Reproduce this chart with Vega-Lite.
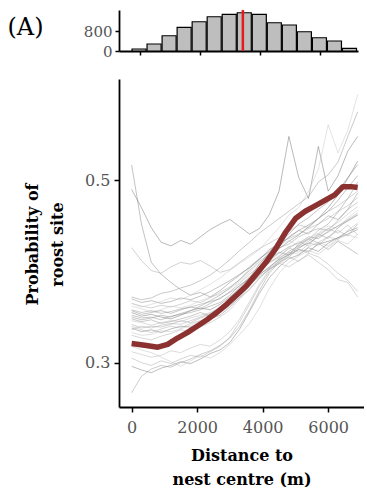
{
"$schema": "https://vega.github.io/schema/vega-lite/v6.json",
"padding": {"left": 7, "top": 8, "right": 0, "bottom": 0},
"autosize": {"type": "pad"},
"spacing": 20,
"config": {"view": {"stroke": null}, "font": "DejaVu Serif", "axis": {"grid": false, "domainColor": "black", "domainWidth": 1.8, "tickColor": "black", "tickWidth": 1.5, "tickSize": 5, "labelColor": "#555555", "labelFont": "DejaVu Serif", "labelFontSize": 16, "titleFont": "DejaVu Serif", "titleColor": "black"}},
"datasets": {
"hist": [{"b0":-300,"b1":200,"n":80},{"b0":200,"b1":700,"n":280},{"b0":700,"b1":1200,"n":610},{"b0":1200,"b1":1700,"n":945},{"b0":1700,"b1":2200,"n":1170},{"b0":2200,"b1":2700,"n":1370},{"b0":2700,"b1":3200,"n":1465},{"b0":3200,"b1":3700,"n":1530},{"b0":3700,"b1":4200,"n":1465},{"b0":4200,"b1":4700,"n":1130},{"b0":4700,"b1":5200,"n":1040},{"b0":5200,"b1":5700,"n":770},{"b0":5700,"b1":6200,"n":530},{"b0":6200,"b1":6700,"n":400},{"b0":6700,"b1":7200,"n":105}],
"cut": [{"d": 3420}],
"mean": [{"d":0,"p":0.321},{"d":400,"p":0.319},{"d":800,"p":0.317},{"d":1100,"p":0.320},{"d":1400,"p":0.327},{"d":1700,"p":0.333},{"d":2000,"p":0.340},{"d":2300,"p":0.347},{"d":2600,"p":0.355},{"d":2900,"p":0.364},{"d":3200,"p":0.374},{"d":3500,"p":0.384},{"d":3800,"p":0.397},{"d":4100,"p":0.410},{"d":4400,"p":0.425},{"d":4700,"p":0.443},{"d":5000,"p":0.458},{"d":5300,"p":0.466},{"d":5600,"p":0.472},{"d":5900,"p":0.478},{"d":6200,"p":0.484},{"d":6450,"p":0.493},{"d":6700,"p":0.493},{"d":6900,"p":0.492}],
"lines": [
{"g":1,"d":0,"p":0.352},{"g":1,"d":300,"p":0.349},{"g":1,"d":600,"p":0.350},{"g":1,"d":900,"p":0.347},{"g":1,"d":1200,"p":0.351},{"g":1,"d":1500,"p":0.353},{"g":1,"d":1800,"p":0.355},{"g":1,"d":2100,"p":0.358},{"g":1,"d":2400,"p":0.362},{"g":1,"d":2700,"p":0.366},{"g":1,"d":3000,"p":0.374},{"g":1,"d":3300,"p":0.385},{"g":1,"d":3600,"p":0.392},{"g":1,"d":3900,"p":0.401},{"g":1,"d":4200,"p":0.412},{"g":1,"d":4500,"p":0.420},{"g":1,"d":4800,"p":0.427},{"g":1,"d":5100,"p":0.431},{"g":1,"d":5400,"p":0.438},{"g":1,"d":5700,"p":0.436},{"g":1,"d":6000,"p":0.444},{"g":1,"d":6300,"p":0.450},{"g":1,"d":6600,"p":0.455},{"g":1,"d":6900,"p":0.462},
{"g":2,"d":0,"p":0.365},{"g":2,"d":300,"p":0.362},{"g":2,"d":600,"p":0.360},{"g":2,"d":900,"p":0.363},{"g":2,"d":1200,"p":0.361},{"g":2,"d":1500,"p":0.364},{"g":2,"d":1800,"p":0.368},{"g":2,"d":2100,"p":0.366},{"g":2,"d":2400,"p":0.371},{"g":2,"d":2700,"p":0.377},{"g":2,"d":3000,"p":0.383},{"g":2,"d":3300,"p":0.391},{"g":2,"d":3600,"p":0.403},{"g":2,"d":3900,"p":0.414},{"g":2,"d":4200,"p":0.421},{"g":2,"d":4500,"p":0.432},{"g":2,"d":4800,"p":0.436},{"g":2,"d":5100,"p":0.441},{"g":2,"d":5400,"p":0.447},{"g":2,"d":5700,"p":0.452},{"g":2,"d":6000,"p":0.458},{"g":2,"d":6300,"p":0.466},{"g":2,"d":6600,"p":0.472},{"g":2,"d":6900,"p":0.481},
{"g":3,"d":0,"p":0.338},{"g":3,"d":300,"p":0.334},{"g":3,"d":600,"p":0.336},{"g":3,"d":900,"p":0.333},{"g":3,"d":1200,"p":0.337},{"g":3,"d":1500,"p":0.340},{"g":3,"d":1800,"p":0.339},{"g":3,"d":2100,"p":0.343},{"g":3,"d":2400,"p":0.348},{"g":3,"d":2700,"p":0.352},{"g":3,"d":3000,"p":0.361},{"g":3,"d":3300,"p":0.372},{"g":3,"d":3600,"p":0.384},{"g":3,"d":3900,"p":0.396},{"g":3,"d":4200,"p":0.405},{"g":3,"d":4500,"p":0.413},{"g":3,"d":4800,"p":0.418},{"g":3,"d":5100,"p":0.424},{"g":3,"d":5400,"p":0.422},{"g":3,"d":5700,"p":0.430},{"g":3,"d":6000,"p":0.433},{"g":3,"d":6300,"p":0.437},{"g":3,"d":6600,"p":0.441},{"g":3,"d":6900,"p":0.446},
{"g":4,"d":0,"p":0.346},{"g":4,"d":300,"p":0.344},{"g":4,"d":600,"p":0.341},{"g":4,"d":900,"p":0.344},{"g":4,"d":1200,"p":0.346},{"g":4,"d":1500,"p":0.345},{"g":4,"d":1800,"p":0.349},{"g":4,"d":2100,"p":0.352},{"g":4,"d":2400,"p":0.355},{"g":4,"d":2700,"p":0.361},{"g":4,"d":3000,"p":0.368},{"g":4,"d":3300,"p":0.379},{"g":4,"d":3600,"p":0.389},{"g":4,"d":3900,"p":0.398},{"g":4,"d":4200,"p":0.410},{"g":4,"d":4500,"p":0.417},{"g":4,"d":4800,"p":0.425},{"g":4,"d":5100,"p":0.433},{"g":4,"d":5400,"p":0.428},{"g":4,"d":5700,"p":0.441},{"g":4,"d":6000,"p":0.447},{"g":4,"d":6300,"p":0.454},{"g":4,"d":6600,"p":0.463},{"g":4,"d":6900,"p":0.471},
{"g":5,"d":0,"p":0.358},{"g":5,"d":300,"p":0.355},{"g":5,"d":600,"p":0.357},{"g":5,"d":900,"p":0.354},{"g":5,"d":1200,"p":0.356},{"g":5,"d":1500,"p":0.359},{"g":5,"d":1800,"p":0.361},{"g":5,"d":2100,"p":0.364},{"g":5,"d":2400,"p":0.367},{"g":5,"d":2700,"p":0.370},{"g":5,"d":3000,"p":0.378},{"g":5,"d":3300,"p":0.387},{"g":5,"d":3600,"p":0.397},{"g":5,"d":3900,"p":0.405},{"g":5,"d":4200,"p":0.416},{"g":5,"d":4500,"p":0.426},{"g":5,"d":4800,"p":0.430},{"g":5,"d":5100,"p":0.438},{"g":5,"d":5400,"p":0.443},{"g":5,"d":5700,"p":0.447},{"g":5,"d":6000,"p":0.445},{"g":5,"d":6300,"p":0.456},{"g":5,"d":6600,"p":0.468},{"g":5,"d":6900,"p":0.476},
{"g":6,"d":0,"p":0.333},{"g":6,"d":300,"p":0.330},{"g":6,"d":600,"p":0.331},{"g":6,"d":900,"p":0.335},{"g":6,"d":1200,"p":0.334},{"g":6,"d":1500,"p":0.337},{"g":6,"d":1800,"p":0.341},{"g":6,"d":2100,"p":0.345},{"g":6,"d":2400,"p":0.349},{"g":6,"d":2700,"p":0.356},{"g":6,"d":3000,"p":0.366},{"g":6,"d":3300,"p":0.377},{"g":6,"d":3600,"p":0.388},{"g":6,"d":3900,"p":0.400},{"g":6,"d":4200,"p":0.409},{"g":6,"d":4500,"p":0.415},{"g":6,"d":4800,"p":0.421},{"g":6,"d":5100,"p":0.419},{"g":6,"d":5400,"p":0.427},{"g":6,"d":5700,"p":0.432},{"g":6,"d":6000,"p":0.428},{"g":6,"d":6300,"p":0.436},{"g":6,"d":6600,"p":0.440},{"g":6,"d":6900,"p":0.437},
{"g":7,"d":0,"p":0.370},{"g":7,"d":300,"p":0.366},{"g":7,"d":600,"p":0.368},{"g":7,"d":900,"p":0.365},{"g":7,"d":1200,"p":0.367},{"g":7,"d":1500,"p":0.371},{"g":7,"d":1800,"p":0.369},{"g":7,"d":2100,"p":0.373},{"g":7,"d":2400,"p":0.378},{"g":7,"d":2700,"p":0.384},{"g":7,"d":3000,"p":0.390},{"g":7,"d":3300,"p":0.397},{"g":7,"d":3600,"p":0.404},{"g":7,"d":3900,"p":0.413},{"g":7,"d":4200,"p":0.424},{"g":7,"d":4500,"p":0.430},{"g":7,"d":4800,"p":0.437},{"g":7,"d":5100,"p":0.445},{"g":7,"d":5400,"p":0.451},{"g":7,"d":5700,"p":0.458},{"g":7,"d":6000,"p":0.466},{"g":7,"d":6300,"p":0.478},{"g":7,"d":6600,"p":0.492},{"g":7,"d":6900,"p":0.505},
{"g":8,"d":0,"p":0.342},{"g":8,"d":300,"p":0.338},{"g":8,"d":600,"p":0.340},{"g":8,"d":900,"p":0.339},{"g":8,"d":1200,"p":0.342},{"g":8,"d":1500,"p":0.346},{"g":8,"d":1800,"p":0.344},{"g":8,"d":2100,"p":0.349},{"g":8,"d":2400,"p":0.353},{"g":8,"d":2700,"p":0.358},{"g":8,"d":3000,"p":0.364},{"g":8,"d":3300,"p":0.374},{"g":8,"d":3600,"p":0.386},{"g":8,"d":3900,"p":0.394},{"g":8,"d":4200,"p":0.403},{"g":8,"d":4500,"p":0.411},{"g":8,"d":4800,"p":0.419},{"g":8,"d":5100,"p":0.426},{"g":8,"d":5400,"p":0.431},{"g":8,"d":5700,"p":0.429},{"g":8,"d":6000,"p":0.438},{"g":8,"d":6300,"p":0.445},{"g":8,"d":6600,"p":0.439},{"g":8,"d":6900,"p":0.452},
{"g":9,"d":0,"p":0.355},{"g":9,"d":300,"p":0.351},{"g":9,"d":600,"p":0.353},{"g":9,"d":900,"p":0.350},{"g":9,"d":1200,"p":0.348},{"g":9,"d":1500,"p":0.352},{"g":9,"d":1800,"p":0.357},{"g":9,"d":2100,"p":0.360},{"g":9,"d":2400,"p":0.358},{"g":9,"d":2700,"p":0.364},{"g":9,"d":3000,"p":0.372},{"g":9,"d":3300,"p":0.382},{"g":9,"d":3600,"p":0.393},{"g":9,"d":3900,"p":0.408},{"g":9,"d":4200,"p":0.420},{"g":9,"d":4500,"p":0.425},{"g":9,"d":4800,"p":0.433},{"g":9,"d":5100,"p":0.440},{"g":9,"d":5400,"p":0.449},{"g":9,"d":5700,"p":0.458},{"g":9,"d":6000,"p":0.470},{"g":9,"d":6300,"p":0.484},{"g":9,"d":6600,"p":0.502},{"g":9,"d":6900,"p":0.521},
{"g":10,"d":0,"p":0.362},{"g":10,"d":300,"p":0.359},{"g":10,"d":600,"p":0.356},{"g":10,"d":900,"p":0.358},{"g":10,"d":1200,"p":0.362},{"g":10,"d":1500,"p":0.360},{"g":10,"d":1800,"p":0.363},{"g":10,"d":2100,"p":0.368},{"g":10,"d":2400,"p":0.372},{"g":10,"d":2700,"p":0.375},{"g":10,"d":3000,"p":0.381},{"g":10,"d":3300,"p":0.389},{"g":10,"d":3600,"p":0.399},{"g":10,"d":3900,"p":0.409},{"g":10,"d":4200,"p":0.418},{"g":10,"d":4500,"p":0.429},{"g":10,"d":4800,"p":0.434},{"g":10,"d":5100,"p":0.428},{"g":10,"d":5400,"p":0.436},{"g":10,"d":5700,"p":0.442},{"g":10,"d":6000,"p":0.450},{"g":10,"d":6300,"p":0.447},{"g":10,"d":6600,"p":0.459},{"g":10,"d":6900,"p":0.467},
{"g":11,"d":0,"p":0.348},{"g":11,"d":300,"p":0.345},{"g":11,"d":600,"p":0.347},{"g":11,"d":900,"p":0.343},{"g":11,"d":1200,"p":0.345},{"g":11,"d":1500,"p":0.348},{"g":11,"d":1800,"p":0.351},{"g":11,"d":2100,"p":0.355},{"g":11,"d":2400,"p":0.351},{"g":11,"d":2700,"p":0.357},{"g":11,"d":3000,"p":0.366},{"g":11,"d":3300,"p":0.376},{"g":11,"d":3600,"p":0.386},{"g":11,"d":3900,"p":0.397},{"g":11,"d":4200,"p":0.404},{"g":11,"d":4500,"p":0.414},{"g":11,"d":4800,"p":0.422},{"g":11,"d":5100,"p":0.428},{"g":11,"d":5400,"p":0.435},{"g":11,"d":5700,"p":0.445},{"g":11,"d":6000,"p":0.452},{"g":11,"d":6300,"p":0.465},{"g":11,"d":6600,"p":0.480},{"g":11,"d":6900,"p":0.498},
{"g":12,"d":0,"p":0.340},{"g":12,"d":300,"p":0.336},{"g":12,"d":600,"p":0.333},{"g":12,"d":900,"p":0.337},{"g":12,"d":1200,"p":0.340},{"g":12,"d":1500,"p":0.338},{"g":12,"d":1800,"p":0.343},{"g":12,"d":2100,"p":0.346},{"g":12,"d":2400,"p":0.350},{"g":12,"d":2700,"p":0.355},{"g":12,"d":3000,"p":0.363},{"g":12,"d":3300,"p":0.371},{"g":12,"d":3600,"p":0.380},{"g":12,"d":3900,"p":0.392},{"g":12,"d":4200,"p":0.403},{"g":12,"d":4500,"p":0.408},{"g":12,"d":4800,"p":0.416},{"g":12,"d":5100,"p":0.411},{"g":12,"d":5400,"p":0.420},{"g":12,"d":5700,"p":0.416},{"g":12,"d":6000,"p":0.408},{"g":12,"d":6300,"p":0.398},{"g":12,"d":6600,"p":0.390},{"g":12,"d":6900,"p":0.378},
{"g":13,"d":0,"p":0.357},{"g":13,"d":300,"p":0.353},{"g":13,"d":600,"p":0.355},{"g":13,"d":900,"p":0.357},{"g":13,"d":1200,"p":0.354},{"g":13,"d":1500,"p":0.358},{"g":13,"d":1800,"p":0.361},{"g":13,"d":2100,"p":0.359},{"g":13,"d":2400,"p":0.365},{"g":13,"d":2700,"p":0.371},{"g":13,"d":3000,"p":0.377},{"g":13,"d":3300,"p":0.384},{"g":13,"d":3600,"p":0.394},{"g":13,"d":3900,"p":0.402},{"g":13,"d":4200,"p":0.414},{"g":13,"d":4500,"p":0.421},{"g":13,"d":4800,"p":0.418},{"g":13,"d":5100,"p":0.430},{"g":13,"d":5400,"p":0.436},{"g":13,"d":5700,"p":0.431},{"g":13,"d":6000,"p":0.424},{"g":13,"d":6300,"p":0.433},{"g":13,"d":6600,"p":0.426},{"g":13,"d":6900,"p":0.419},
{"g":14,"d":0,"p":0.305},{"g":14,"d":300,"p":0.300},{"g":14,"d":600,"p":0.297},{"g":14,"d":900,"p":0.302},{"g":14,"d":1200,"p":0.299},{"g":14,"d":1500,"p":0.304},{"g":14,"d":1800,"p":0.308},{"g":14,"d":2100,"p":0.306},{"g":14,"d":2400,"p":0.312},{"g":14,"d":2700,"p":0.318},{"g":14,"d":3000,"p":0.328},{"g":14,"d":3300,"p":0.345},{"g":14,"d":3600,"p":0.364},{"g":14,"d":3900,"p":0.384},{"g":14,"d":4200,"p":0.400},{"g":14,"d":4500,"p":0.412},{"g":14,"d":4800,"p":0.420},{"g":14,"d":5100,"p":0.427},{"g":14,"d":5400,"p":0.431},{"g":14,"d":5700,"p":0.438},{"g":14,"d":6000,"p":0.443},{"g":14,"d":6300,"p":0.450},{"g":14,"d":6600,"p":0.457},{"g":14,"d":6900,"p":0.464},
{"g":15,"d":0,"p":0.296},{"g":15,"d":300,"p":0.292},{"g":15,"d":600,"p":0.289},{"g":15,"d":900,"p":0.294},{"g":15,"d":1200,"p":0.297},{"g":15,"d":1500,"p":0.301},{"g":15,"d":1800,"p":0.299},{"g":15,"d":2100,"p":0.304},{"g":15,"d":2400,"p":0.310},{"g":15,"d":2700,"p":0.314},{"g":15,"d":3000,"p":0.322},{"g":15,"d":3300,"p":0.337},{"g":15,"d":3600,"p":0.356},{"g":15,"d":3900,"p":0.376},{"g":15,"d":4200,"p":0.393},{"g":15,"d":4500,"p":0.405},{"g":15,"d":4800,"p":0.414},{"g":15,"d":5100,"p":0.418},{"g":15,"d":5400,"p":0.426},{"g":15,"d":5700,"p":0.422},{"g":15,"d":6000,"p":0.431},{"g":15,"d":6300,"p":0.437},{"g":15,"d":6600,"p":0.444},{"g":15,"d":6900,"p":0.448},
{"g":16,"d":0,"p":0.312},{"g":16,"d":300,"p":0.309},{"g":16,"d":600,"p":0.306},{"g":16,"d":900,"p":0.308},{"g":16,"d":1200,"p":0.313},{"g":16,"d":1500,"p":0.311},{"g":16,"d":1800,"p":0.316},{"g":16,"d":2100,"p":0.320},{"g":16,"d":2400,"p":0.318},{"g":16,"d":2700,"p":0.325},{"g":16,"d":3000,"p":0.334},{"g":16,"d":3300,"p":0.348},{"g":16,"d":3600,"p":0.367},{"g":16,"d":3900,"p":0.386},{"g":16,"d":4200,"p":0.402},{"g":16,"d":4500,"p":0.409},{"g":16,"d":4800,"p":0.418},{"g":16,"d":5100,"p":0.424},{"g":16,"d":5400,"p":0.420},{"g":16,"d":5700,"p":0.432},{"g":16,"d":6000,"p":0.438},{"g":16,"d":6300,"p":0.435},{"g":16,"d":6600,"p":0.445},{"g":16,"d":6900,"p":0.453},
{"g":17,"d":0,"p":0.267},{"g":17,"d":300,"p":0.285},{"g":17,"d":600,"p":0.293},{"g":17,"d":900,"p":0.297},{"g":17,"d":1200,"p":0.295},{"g":17,"d":1500,"p":0.300},{"g":17,"d":1800,"p":0.304},{"g":17,"d":2100,"p":0.309},{"g":17,"d":2400,"p":0.313},{"g":17,"d":2700,"p":0.319},{"g":17,"d":3000,"p":0.327},{"g":17,"d":3300,"p":0.340},{"g":17,"d":3600,"p":0.358},{"g":17,"d":3900,"p":0.379},{"g":17,"d":4200,"p":0.398},{"g":17,"d":4500,"p":0.410},{"g":17,"d":4800,"p":0.416},{"g":17,"d":5100,"p":0.425},{"g":17,"d":5400,"p":0.433},{"g":17,"d":5700,"p":0.441},{"g":17,"d":6000,"p":0.436},{"g":17,"d":6300,"p":0.448},{"g":17,"d":6600,"p":0.456},{"g":17,"d":6900,"p":0.462},
{"g":18,"d":0,"p":0.318},{"g":18,"d":300,"p":0.314},{"g":18,"d":600,"p":0.311},{"g":18,"d":900,"p":0.306},{"g":18,"d":1200,"p":0.301},{"g":18,"d":1500,"p":0.296},{"g":18,"d":1800,"p":0.302},{"g":18,"d":2100,"p":0.308},{"g":18,"d":2400,"p":0.305},{"g":18,"d":2700,"p":0.311},{"g":18,"d":3000,"p":0.320},{"g":18,"d":3300,"p":0.331},{"g":18,"d":3600,"p":0.343},{"g":18,"d":3900,"p":0.360},{"g":18,"d":4200,"p":0.381},{"g":18,"d":4500,"p":0.398},{"g":18,"d":4800,"p":0.410},{"g":18,"d":5100,"p":0.417},{"g":18,"d":5400,"p":0.423},{"g":18,"d":5700,"p":0.419},{"g":18,"d":6000,"p":0.427},{"g":18,"d":6300,"p":0.434},{"g":18,"d":6600,"p":0.430},{"g":18,"d":6900,"p":0.441},
{"g":19,"d":0,"p":0.517},{"g":19,"d":300,"p":0.452},{"g":19,"d":600,"p":0.410},{"g":19,"d":900,"p":0.397},{"g":19,"d":1200,"p":0.388},{"g":19,"d":1500,"p":0.380},{"g":19,"d":1800,"p":0.374},{"g":19,"d":2100,"p":0.377},{"g":19,"d":2400,"p":0.372},{"g":19,"d":2700,"p":0.379},{"g":19,"d":3000,"p":0.388},{"g":19,"d":3300,"p":0.396},{"g":19,"d":3600,"p":0.405},{"g":19,"d":3900,"p":0.414},{"g":19,"d":4200,"p":0.422},{"g":19,"d":4500,"p":0.433},{"g":19,"d":4800,"p":0.441},{"g":19,"d":5100,"p":0.452},{"g":19,"d":5400,"p":0.459},{"g":19,"d":5700,"p":0.468},{"g":19,"d":6000,"p":0.476},{"g":19,"d":6300,"p":0.488},{"g":19,"d":6600,"p":0.503},{"g":19,"d":6900,"p":0.517},
{"g":20,"d":0,"p":0.426},{"g":20,"d":300,"p":0.412},{"g":20,"d":600,"p":0.401},{"g":20,"d":900,"p":0.398},{"g":20,"d":1200,"p":0.405},{"g":20,"d":1500,"p":0.410},{"g":20,"d":1800,"p":0.408},{"g":20,"d":2100,"p":0.412},{"g":20,"d":2400,"p":0.406},{"g":20,"d":2700,"p":0.399},{"g":20,"d":3000,"p":0.402},{"g":20,"d":3300,"p":0.410},{"g":20,"d":3600,"p":0.418},{"g":20,"d":3900,"p":0.425},{"g":20,"d":4200,"p":0.431},{"g":20,"d":4500,"p":0.437},{"g":20,"d":4800,"p":0.444},{"g":20,"d":5100,"p":0.451},{"g":20,"d":5400,"p":0.448},{"g":20,"d":5700,"p":0.458},{"g":20,"d":6000,"p":0.466},{"g":20,"d":6300,"p":0.472},{"g":20,"d":6600,"p":0.480},{"g":20,"d":6900,"p":0.488},
{"g":21,"d":0,"p":0.490},{"g":21,"d":300,"p":0.470},{"g":21,"d":600,"p":0.448},{"g":21,"d":900,"p":0.432},{"g":21,"d":1200,"p":0.428},{"g":21,"d":1500,"p":0.434},{"g":21,"d":1800,"p":0.430},{"g":21,"d":2100,"p":0.438},{"g":21,"d":2400,"p":0.446},{"g":21,"d":2700,"p":0.452},{"g":21,"d":3000,"p":0.457},{"g":21,"d":3300,"p":0.449},{"g":21,"d":3600,"p":0.441},{"g":21,"d":3900,"p":0.447},{"g":21,"d":4200,"p":0.462},{"g":21,"d":4500,"p":0.488},{"g":21,"d":4800,"p":0.548},{"g":21,"d":5100,"p":0.503},{"g":21,"d":5400,"p":0.480},{"g":21,"d":5700,"p":0.537},{"g":21,"d":6000,"p":0.488},{"g":21,"d":6300,"p":0.505},{"g":21,"d":6600,"p":0.532},{"g":21,"d":6900,"p":0.548},
{"g":22,"d":0,"p":0.365},{"g":22,"d":300,"p":0.361},{"g":22,"d":600,"p":0.364},{"g":22,"d":900,"p":0.367},{"g":22,"d":1200,"p":0.371},{"g":22,"d":1500,"p":0.369},{"g":22,"d":1800,"p":0.374},{"g":22,"d":2100,"p":0.380},{"g":22,"d":2400,"p":0.386},{"g":22,"d":2700,"p":0.393},{"g":22,"d":3000,"p":0.401},{"g":22,"d":3300,"p":0.409},{"g":22,"d":3600,"p":0.416},{"g":22,"d":3900,"p":0.424},{"g":22,"d":4200,"p":0.436},{"g":22,"d":4500,"p":0.448},{"g":22,"d":4800,"p":0.462},{"g":22,"d":5100,"p":0.470},{"g":22,"d":5400,"p":0.488},{"g":22,"d":5700,"p":0.512},{"g":22,"d":6000,"p":0.561},{"g":22,"d":6300,"p":0.530},{"g":22,"d":6600,"p":0.555},{"g":22,"d":6900,"p":0.594},
{"g":23,"d":0,"p":0.372},{"g":23,"d":300,"p":0.369},{"g":23,"d":600,"p":0.371},{"g":23,"d":900,"p":0.376},{"g":23,"d":1200,"p":0.378},{"g":23,"d":1500,"p":0.382},{"g":23,"d":1800,"p":0.385},{"g":23,"d":2100,"p":0.390},{"g":23,"d":2400,"p":0.396},{"g":23,"d":2700,"p":0.404},{"g":23,"d":3000,"p":0.413},{"g":23,"d":3300,"p":0.423},{"g":23,"d":3600,"p":0.432},{"g":23,"d":3900,"p":0.442},{"g":23,"d":4200,"p":0.450},{"g":23,"d":4500,"p":0.458},{"g":23,"d":4800,"p":0.466},{"g":23,"d":5100,"p":0.474},{"g":23,"d":5400,"p":0.482},{"g":23,"d":5700,"p":0.498},{"g":23,"d":6000,"p":0.506},{"g":23,"d":6300,"p":0.520},{"g":23,"d":6600,"p":0.548},{"g":23,"d":6900,"p":0.575},
{"g":24,"d":0,"p":0.330},{"g":24,"d":300,"p":0.327},{"g":24,"d":600,"p":0.325},{"g":24,"d":900,"p":0.329},{"g":24,"d":1200,"p":0.332},{"g":24,"d":1500,"p":0.336},{"g":24,"d":1800,"p":0.334},{"g":24,"d":2100,"p":0.339},{"g":24,"d":2400,"p":0.344},{"g":24,"d":2700,"p":0.350},{"g":24,"d":3000,"p":0.358},{"g":24,"d":3300,"p":0.370},{"g":24,"d":3600,"p":0.381},{"g":24,"d":3900,"p":0.393},{"g":24,"d":4200,"p":0.402},{"g":24,"d":4500,"p":0.409},{"g":24,"d":4800,"p":0.405},{"g":24,"d":5100,"p":0.412},{"g":24,"d":5400,"p":0.418},{"g":24,"d":5700,"p":0.410},{"g":24,"d":6000,"p":0.402},{"g":24,"d":6300,"p":0.391},{"g":24,"d":6600,"p":0.388},{"g":24,"d":6900,"p":0.372},
{"g":25,"d":0,"p":0.350},{"g":25,"d":300,"p":0.347},{"g":25,"d":600,"p":0.349},{"g":25,"d":900,"p":0.352},{"g":25,"d":1200,"p":0.350},{"g":25,"d":1500,"p":0.354},{"g":25,"d":1800,"p":0.357},{"g":25,"d":2100,"p":0.362},{"g":25,"d":2400,"p":0.368},{"g":25,"d":2700,"p":0.374},{"g":25,"d":3000,"p":0.382},{"g":25,"d":3300,"p":0.391},{"g":25,"d":3600,"p":0.401},{"g":25,"d":3900,"p":0.411},{"g":25,"d":4200,"p":0.419},{"g":25,"d":4500,"p":0.427},{"g":25,"d":4800,"p":0.438},{"g":25,"d":5100,"p":0.445},{"g":25,"d":5400,"p":0.441},{"g":25,"d":5700,"p":0.452},{"g":25,"d":6000,"p":0.461},{"g":25,"d":6300,"p":0.457},{"g":25,"d":6600,"p":0.468},{"g":25,"d":6900,"p":0.486},
{"g":26,"d":0,"p":0.336},{"g":26,"d":300,"p":0.340},{"g":26,"d":600,"p":0.338},{"g":26,"d":900,"p":0.341},{"g":26,"d":1200,"p":0.343},{"g":26,"d":1500,"p":0.342},{"g":26,"d":1800,"p":0.346},{"g":26,"d":2100,"p":0.350},{"g":26,"d":2400,"p":0.354},{"g":26,"d":2700,"p":0.360},{"g":26,"d":3000,"p":0.369},{"g":26,"d":3300,"p":0.380},{"g":26,"d":3600,"p":0.393},{"g":26,"d":3900,"p":0.403},{"g":26,"d":4200,"p":0.410},{"g":26,"d":4500,"p":0.416},{"g":26,"d":4800,"p":0.426},{"g":26,"d":5100,"p":0.421},{"g":26,"d":5400,"p":0.430},{"g":26,"d":5700,"p":0.439},{"g":26,"d":6000,"p":0.447},{"g":26,"d":6300,"p":0.442},{"g":26,"d":6600,"p":0.451},{"g":26,"d":6900,"p":0.440}
]
},
"vconcat": [
{
"width": 239, "height": 41,
"layer": [
{"data": {"name": "hist"}, "mark": {"type": "bar", "fill": "#bebebe", "stroke": "black", "strokeWidth": 1.2},
 "encoding": {
  "x": {"field": "b0", "type": "quantitative", "bin": "binned", "scale": {"domain": [-700, 7250], "nice": false, "zero": false},
        "axis": {"values": [0, 2000, 4000, 6000], "labels": false, "title": null, "tickSize": 4}},
  "x2": {"field": "b1"},
  "y": {"field": "n", "type": "quantitative", "scale": {"domain": [0, 1640], "nice": false},
        "axis": {"values": [0, 800], "format": "d", "labelOverlap": false, "labelFontSize": 15, "tickSize": 4, "labelPadding": 3,
                 "title": "(A)", "titleAngle": 0, "titleFontSize": 24, "titleFontWeight": "normal", "titleAlign": "left", "titleBaseline": "middle", "titleX": -112, "titleY": 17}}
 }},
{"data": {"name": "cut"}, "mark": {"type": "rule", "color": "#e41a1c", "strokeWidth": 2.5},
 "encoding": {"x": {"field": "d", "type": "quantitative"}}}
]
},
{
"width": 245, "height": 328,
"layer": [
{"data": {"name": "lines"}, "mark": {"type": "line", "strokeWidth": 0.8, "opacity": 0.6},
 "encoding": {
  "x": {"field": "d", "type": "quantitative", "scale": {"domain": [-385, 7093], "nice": false, "zero": false},
        "axis": {"values": [0, 2000, 4000, 6000], "format": "d", "labelPadding": 7,
                 "title": ["Distance to", "nest centre (m)"], "titleFontSize": 16, "titleFontWeight": "bold", "titleLineHeight": 24, "titleBaseline": "middle", "titleY": 48}},
  "y": {"field": "p", "type": "quantitative", "scale": {"domain": [0.2514, 0.611], "nice": false, "zero": false},
        "axis": {"values": [0.3, 0.5], "format": ".1f", "labelPadding": 4,
                 "title": ["Probability of", "roost site"], "titleFontSize": 16, "titleFontWeight": "bold", "titleLineHeight": 25, "titleAngle": -90, "titleAlign": "center", "titleBaseline": "middle", "titleX": -87, "titleY": 165}},
  "detail": {"field": "g", "type": "nominal"},
  "color": {"field": "g", "type": "nominal", "legend": null,
            "scale": {"range": ["#8c8c8c", "#a6a6a6", "#777777", "#b3b3b3", "#969696", "#bdbdbd", "#808080", "#a0a0a0", "#6e6e6e", "#c4c4c4", "#909090", "#ababab"]}}
 }},
{"data": {"name": "mean"}, "mark": {"type": "line", "color": "#8b3231", "strokeWidth": 5.5, "strokeJoin": "round"},
 "encoding": {"x": {"field": "d", "type": "quantitative"}, "y": {"field": "p", "type": "quantitative"}}}
]
}
]
}
